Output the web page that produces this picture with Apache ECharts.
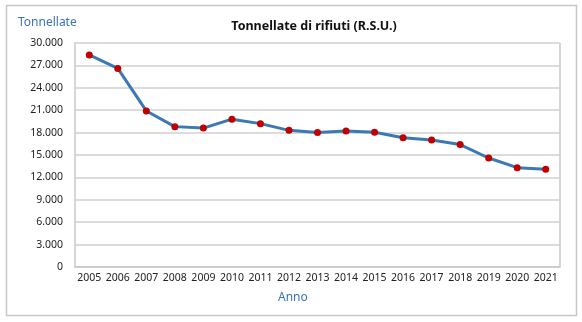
<!DOCTYPE html>
<html>
<head>
<meta charset="utf-8">
<script src="https://cdn.jsdelivr.net/npm/echarts@6/dist/echarts.min.js"></script>
<style>
  html, body { margin: 0; padding: 0; background: #fff; }
  #chart { width: 582px; height: 322px; }
</style>
</head>
<body>
<div id="chart"></div>
<script>
// Municipal solid waste collected per year (tonnes)
const anni = ['2005','2006','2007','2008','2009','2010','2011','2012','2013','2014','2015','2016','2017','2018','2019','2020','2021'];
const tonnellate = [28400, 26600, 20900, 18800, 18600, 19800, 19200, 18300, 18000, 18200, 18050, 17300, 17000, 16400, 14600, 13300, 13100];

const yMin = 0;
const yMax = 30000;
const yStep = 3000;

const FONT = '"Noto Sans", "Open Sans", sans-serif';
const BLUE_TXT = '#3a73b5';
const FRAME = '#c8c8c8';

const chart = echarts.init(document.getElementById('chart'), null, { renderer: 'canvas' });

// Italian thousands separator: 30000 -> 30.000
function fmtMigliaia(v) {
  return String(v).replace(/\B(?=(\d{3})+(?!\d))/g, '.');
}

chart.setOption({
  animation: false,
  backgroundColor: '#fff',
  graphic: [
    {
      // outer frame of the chart
      type: 'rect',
      shape: { x: 6.5, y: 5.5, width: 570, height: 310 },
      style: { fill: 'none', stroke: FRAME, lineWidth: 1.5 },
      silent: true
    },
    {
      // right edge of the plot area
      type: 'line',
      shape: { x1: 560, y1: 43, x2: 560, y2: 267 },
      style: { stroke: FRAME, lineWidth: 1.5 },
      silent: true
    },
    {
      type: 'text',
      left: 18, top: 17,
      style: { text: 'Tonnellate', fill: BLUE_TXT, font: '12px ' + FONT }
    },
    {
      type: 'text',
      left: 278, top: 292,
      style: { text: 'Anno', fill: BLUE_TXT, font: '12px ' + FONT }
    }
  ],
  title: {
    text: 'Tonnellate di rifiuti (R.S.U.)',
    left: 309, top: 15,
    textAlign: 'center',
    textStyle: { fontFamily: FONT, fontSize: 12.5, fontWeight: 'bold', color: '#111' }
  },
  grid: { left: 75, right: 22, top: 43, bottom: 55, containLabel: false },
  xAxis: {
    type: 'category',
    data: anni,
    boundaryGap: true,
    axisLine: { show: true, lineStyle: { color: FRAME, width: 1.5 } },
    axisTick: { show: false },
    axisLabel: { color: '#222', fontFamily: FONT, fontSize: 10.5, margin: 6, interval: 0 },
    splitLine: { show: false }
  },
  yAxis: {
    type: 'value',
    min: yMin, max: yMax, interval: yStep,
    axisLine: { show: true, lineStyle: { color: FRAME, width: 1.5 } },
    axisTick: { show: false },
    axisLabel: { color: '#222', fontFamily: FONT, fontSize: 10.5, margin: 12, formatter: fmtMigliaia },
    splitLine: { show: true, lineStyle: { color: '#d0d0d0', width: 1.5 } }
  },
  series: [{
    type: 'line',
    data: tonnellate,
    symbol: 'circle',
    symbolSize: 7,
    lineStyle: { color: '#3b79b4', width: 3 },
    itemStyle: { color: '#c00000', borderWidth: 0 },
    z: 3
  }]
});
</script>
</body>
</html>
